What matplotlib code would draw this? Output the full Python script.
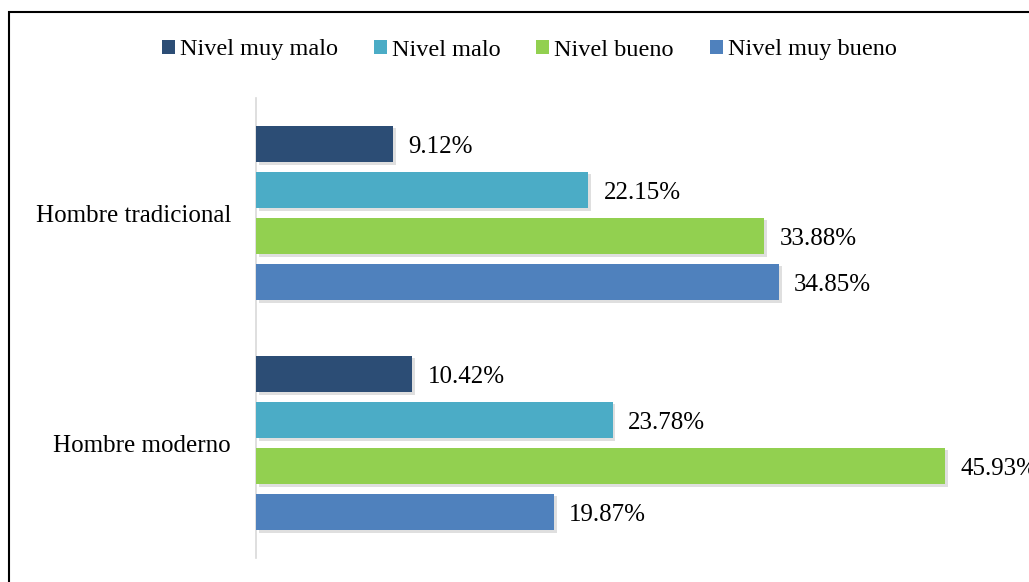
import matplotlib
matplotlib.use('Agg')
import matplotlib.pyplot as plt
import matplotlib.patheffects as pe
from matplotlib.patches import Patch, Rectangle

categories = ['Hombre moderno', 'Hombre tradicional']
series = ['Nivel muy malo', 'Nivel malo', 'Nivel bueno', 'Nivel muy bueno']
values = {
    'Nivel muy malo': [10.42, 9.12],
    'Nivel malo': [23.78, 22.15],
    'Nivel bueno': [45.93, 33.88],
    'Nivel muy bueno': [19.87, 34.85],
}
colors = ['#2C4D75', '#4BACC6', '#92D050', '#4F81BD']

plt.rcParams['font.family'] = ['Liberation Serif', 'DejaVu Serif']
fs = 18

fig = plt.figure(figsize=(10.29, 5.82), dpi=100)
ax = fig.add_axes([256 / 1029, 1 - 558 / 582, 750 / 1029, 460 / 582])

offsets = [0.3, 0.1, -0.1, -0.3]
shadow = [pe.SimplePatchShadow(offset=(2, -2), shadow_rgbFace='#808080', alpha=0.25), pe.Normal()]
for k, name in enumerate(series):
    for i, v in enumerate(values[name]):
        b = ax.barh(i + offsets[k], v, height=0.16, color=colors[k], zorder=3)
        for p in b.patches:
            p.set_path_effects(shadow)
        # the 45.93% label runs off the right edge, as in the original
        ax.annotate('%.2f%%' % v, (v, i + offsets[k]), xytext=(11, -2),
                    textcoords='offset points', va='center', ha='left',
                    fontsize=fs, annotation_clip=False)

ax.set_xlim(0, 50)
ax.set_ylim(-0.5, 1.5)
ax.set_yticks(range(len(categories)))
ax.set_yticklabels(categories, fontsize=fs)
ax.tick_params(axis='y', length=0, pad=18)
ax.set_xticks([])
for s in ['top', 'right', 'bottom']:
    ax.spines[s].set_visible(False)
ax.spines['left'].set_color('#d9d9d9')
ax.spines['left'].set_linewidth(1.2)

handles = [Patch(facecolor=c, edgecolor='none') for c in colors]
fig.legend(handles, series, loc='center', bbox_to_anchor=(529 / 1029, 1 - 50 / 582),
           ncol=4, frameon=False, fontsize=17.5, handlelength=0.54, handleheight=0.54,
           handletextpad=0.2, columnspacing=1.48)

fig.patches.append(Rectangle((9 / 1029, -0.1), 1.2, 1 - 12 / 582 + 0.1,
                             transform=fig.transFigure, fill=False,
                             edgecolor='black', linewidth=1.5, zorder=0))

fig.savefig('out.png', dpi=100)
